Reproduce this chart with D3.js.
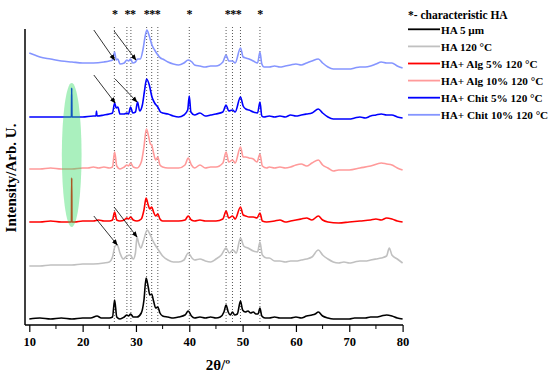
<!DOCTYPE html>
<html><head><meta charset="utf-8">
<script src="https://cdn.jsdelivr.net/npm/d3@7"></script>
<style>body{margin:0;background:#fff}svg{display:block}text{font-family:"Liberation Serif","Times New Roman",serif;font-weight:bold}</style>
</head><body><svg id="c" width="550" height="374"></svg>
<script>
// ---- data (2θ, intensity incl. stacking offset) ----
const seriesNames = ["HA 5 µm","HA 120 °C","HA+ Alg 5% 120 °C","HA+ Alg 10% 120 °C","HA+ Chit 5% 120 °C","HA+ Chit 10% 120 °C"];
const seriesColors = ["#000000","#c0c0c0","#ff0000","#ff9a9a","#0000ff","#8595ff"];
const ha5um = [[10,6],[12,7],[14,6],[16,7],[18,6],[20,7],[21.5,7],[22.7,9],[23.5,7],[25,7],[25.6,8],[26.0,25],[26.4,8],[27,6],[27.8,8],[28.3,10],[28.6,9],[29.0,11],[29.5,8],[30.2,8],[31,12],[31.5,25],[31.9,47],[32.3,38],[32.6,30],[32.95,31],[33.3,24],[33.7,17],[34.1,18],[34.5,12],[35,9],[36,8],[37,7],[38,8],[39.2,10],[39.8,14],[40.4,9],[41,7],[42,8],[43,7],[44,8],[45,7],[45.8,8],[46.5,13],[46.9,20],[47.3,13],[47.7,10],[48.1,13],[48.5,10],[49.0,11],[49.6,24],[50.0,15],[50.5,13],[51,14],[51.5,12],[52,13],[52.5,11],[52.9,11],[53.25,17],[53.6,9],[54.2,7],[55,7],[56,8],[57,7],[58,7],[59,7],[60,8],[61,7],[62,9],[63,10],[63.6,11],[64.2,13],[65,9],[66,7],[67,6],[68,6],[70,6],[71,7],[72,7],[73,7],[74,8],[75,8],[76,9],[77,10],[78,9],[79,7],[80,6]];
const ha120 = [[10,59],[12,59],[14,60],[16,60],[18,60],[20,61],[22,61],[24,62],[25,63],[25.6,68],[26.1,79],[26.5,80],[27,72],[27.6,66],[28.3,69],[28.9,70],[29.5,66],[29.9,72],[30.2,88],[30.5,82],[30.9,77],[31.4,84],[32.1,95],[32.6,91],[33.1,85],[33.6,80],[34.1,76],[35,69],[36,65],[37,63],[38,63],[39,65],[39.8,72],[40.5,67],[41,65],[42,66],[43,64],[44,63],[45,66],[46,70],[46.9,77],[47.5,72],[48.2,75],[48.8,72],[49.6,87],[50.2,79],[51,77],[52,74],[52.8,73],[53.25,83],[53.7,70],[54.5,67],[55,67],[56,64],[57,64],[58,63],[59,64],[60,64],[61,65],[62,66],[63,68],[64.2,75],[65,70],[66,66],[67,63],[68,62],[69,63],[70,62],[71,63],[72,64],[73,64],[74,65],[75,66],[76,67],[77,69],[77.5,77],[78,70],[79,66],[80,62]];
const alg5 = [[10,103],[12,103],[14,104],[16,103],[17.5,103],[17.9,103],[17.95,147],[18.0,103],[18.5,103],[20,104],[22,104],[23,105],[24,104],[25,104],[25.6,105],[26.0,113],[26.4,105],[27,104],[27.8,105],[28.3,107],[28.6,106],[29.0,108],[29.5,105],[30.2,104],[31,106],[31.5,115],[31.9,127],[32.3,120],[32.6,116],[32.95,118],[33.3,113],[33.7,109],[34.1,111],[34.5,106],[35,104],[36,104],[37,104],[38,104],[39.2,105],[39.8,109],[40.4,105],[41,104],[42,105],[43,104],[44,104],[45,104],[46.3,106],[46.9,114],[47.4,107],[48.1,109],[48.6,106],[49.6,118],[50.1,110],[50.6,109],[51.2,108],[52,108],[52.7,107],[53.25,112],[53.7,104],[54.5,103],[56,104],[57,105],[58,103],[59,104],[60,105],[61,106],[62,107],[63,105],[64.2,109],[65,105],[66,103],[68,102],[70,103],[72,104],[74,105],[75,106],[76,105],[77,107],[78,106],[79,104],[80,103]];
const alg10 = [[10,156],[12,156],[14,157],[16,156],[18,156],[20,157],[21,157],[22,158],[23,157],[24,158],[25,157],[25.6,158],[26.0,173],[26.4,159],[27,156],[27.8,158],[28.3,160],[28.6,159],[29.0,162],[29.5,158],[30.2,157],[31,163],[31.5,178],[31.95,196],[32.4,188],[32.7,181],[32.95,180],[33.3,172],[33.7,165],[34.1,168],[34.5,160],[35,158],[36,157],[37,157],[38,157],[39.2,160],[39.8,167],[40.4,160],[41,157],[42,160],[43,157],[44,158],[45,158],[46.3,162],[46.9,173],[47.4,163],[48.1,165],[48.6,162],[49.6,178],[50.1,168],[50.6,168],[51.2,167],[52,166],[52.7,163],[53.25,171],[53.7,159],[54.5,157],[55,158],[56,157],[57,158],[58,157],[59,158],[60,160],[61,161],[62,159],[63,162],[64.2,165],[65,160],[66,157],[67,154],[68,155],[70,155],[72,157],[74,159],[76,162],[77,161],[78,160],[79,157],[80,155]];
const chit5 = [[10,208],[12,208],[14,208],[16,208],[17.5,208],[17.9,208],[17.95,237],[18.0,208],[18.5,208],[20,208],[22,209],[22.5,209],[22.6,214],[22.7,209],[24,210],[25,211],[25.6,212],[26.0,222],[26.3,217],[26.6,218],[27,211],[27.8,211],[28.3,212],[28.6,211],[29.0,218],[29.4,212],[29.9,213],[30.3,223],[30.7,214],[31.2,220],[31.6,234],[32.0,246],[32.5,240],[33.0,228],[33.5,222],[34.1,218],[34.6,213],[35,212],[36,211],[37,209],[38,208],[39,210],[39.7,215],[40.0,229],[40.3,213],[41,210],[42,212],[43,209],[44,210],[45,211],[46.3,213],[46.9,220],[47.4,214],[48.1,215],[48.6,213],[49.6,228],[50.1,219],[50.6,216],[51.2,215],[52,213],[52.8,212],[53.25,223],[53.6,209],[54,208],[55,209],[56,208],[57,209],[58,208],[59,210],[60,209],[61,210],[62,211],[63,212],[64.2,216],[65,212],[66,208],[67,206],[68,206],[70,206],[71,207],[72,208],[73,207],[74,209],[75,210],[76,211],[77,210],[78,210],[79,208],[80,207]];
const chit10 = [[10,272],[11,270],[12,268],[14,266],[16,264],[18,263],[20,262],[22,262],[24,263],[25,264],[25.6,265],[26.0,273],[26.3,265],[26.6,266],[27,261],[27.8,262],[28.3,265],[28.6,264],[29.0,266],[29.4,262],[29.9,263],[30.3,266],[30.8,266],[31.3,275],[31.7,288],[32.05,295],[32.5,289],[33.0,280],[33.5,275],[34.1,270],[34.6,267],[35,266],[36,263],[37,261],[38,260],[39,262],[39.8,265],[40.5,263],[41,260],[42,259],[43,258],[44,259],[45,259],[46.3,263],[46.9,270],[47.4,264],[48.1,264],[48.6,262],[49.6,277],[50.1,268],[50.6,267],[51.2,266],[52,264],[52.8,262],[53.25,273],[53.6,261],[54,258],[55,258],[56,259],[57,258],[58,259],[59,260],[60,261],[61,260],[62,262],[63,264],[64.2,266],[65,262],[66,258],[67,256],[68,256],[70,256],[71,257],[72,258],[73,258],[74,259],[75,261],[76,263],[77,262],[78,262],[79,259],[80,257]];
const seriesData = [ha5um, ha120, alg5, alg10, chit5, chit10];
const haPeaks = [25.95, 28.3, 29.05, 32.0, 32.95, 34.1, 40.0, 46.9, 48.1, 49.6, 53.25];
const starGroups = [[26.0,"*"],[28.9,"**"],[33.0,"***"],[40.0,"*"],[48.2,"***"],[53.25,"*"]];
const xTicks = [10,20,30,40,50,60,70,80];
// annotation arrows [from 2θ, from I, to 2θ, to I]
const arrows = [[22.1,295,26.0,265],[25.9,294,30.0,265],[22.1,250,26.1,222],[26.1,246,30.2,223],[22.1,109,26.5,80],[25.9,118,30.2,88]];
const highlight = {theta:17.95, I:170, dTheta:1.85, dI:72};

// ---- chart ----
const svg = d3.select("#c");
const x = d3.scaleLinear().domain([10,80]).range([29.3,402.6]);
const y = d3.scaleLinear().domain([0,300]).range([325,25]);

// dotted reference lines + stars
svg.append("g").selectAll("line").data(haPeaks).join("line")
  .attr("x1",d=>x(d)).attr("x2",d=>x(d)).attr("y1",y(298)).attr("y2",y(1))
  .attr("stroke","#444").attr("stroke-width",0.9).attr("stroke-dasharray","1,2");
svg.append("g").selectAll("text").data(starGroups).join("text")
  .attr("x",d=>x(d[0])).attr("y",18).attr("text-anchor","middle").attr("font-size",12).attr("letter-spacing",-0.5).text(d=>d[1]);

// traces
const line = d3.line().x(d=>x(d[0])).y(d=>y(d[1])).curve(d3.curveMonotoneX);
svg.append("g").selectAll("path").data(seriesData).join("path")
  .attr("d",line).attr("fill","none")
  .attr("stroke",(d,i)=>seriesColors[i]).attr("stroke-width",1.6).attr("stroke-linejoin","round");

// highlight ellipse
svg.append("ellipse").attr("cx",x(highlight.theta)).attr("cy",y(highlight.I))
  .attr("rx",x(highlight.theta+highlight.dTheta)-x(highlight.theta))
  .attr("ry",y(0)-y(highlight.dI))
  .attr("fill","rgb(42,217,92)").attr("fill-opacity",0.4);

// arrows
const defs = svg.append("defs");
defs.append("marker").attr("id","ah").attr("viewBox","0 0 10 10").attr("refX",9).attr("refY",5)
  .attr("markerWidth",6).attr("markerHeight",6).attr("orient","auto").attr("markerUnits","userSpaceOnUse")
  .append("path").attr("d","M0,1 L10,5 L0,9 Z").attr("fill","#000");
svg.append("g").selectAll("line").data(arrows).join("line")
  .attr("x1",d=>x(d[0])).attr("y1",d=>y(d[1])).attr("x2",d=>x(d[2])).attr("y2",d=>y(d[3]))
  .attr("stroke","#000").attr("stroke-width",0.8).attr("marker-end","url(#ah)");

// axes
const xAxis = d3.axisBottom(x).tickValues(xTicks).tickSize(7).tickFormat(d3.format("d"));
const gx = svg.append("g").attr("transform",`translate(0,${y(0)})`).call(xAxis);
gx.select(".domain").attr("d",`M25,0H403`).attr("stroke-width",1.5);
gx.selectAll(".tick line").attr("stroke-width",1.2);
gx.selectAll(".tick text").attr("font-size",12.5).attr("font-family","Liberation Serif").attr("font-weight","bold").attr("dy","0.85em").attr("fill","#000");
const minor = d3.range(15,80,10);
gx.selectAll(".minor").data(minor).join("line").attr("class","minor")
  .attr("x1",d=>x(d)).attr("x2",d=>x(d)).attr("y1",0).attr("y2",4).attr("stroke","#000").attr("stroke-width",1);
svg.append("line").attr("x1",25).attr("x2",25).attr("y1",29).attr("y2",y(0)).attr("stroke","#000").attr("stroke-width",1.5);

svg.append("text").attr("x",218).attr("y",370).attr("text-anchor","middle").attr("font-size",15).text("2θ/º");
svg.append("text").attr("transform","translate(16,178) rotate(-90)").attr("text-anchor","middle").attr("font-size",15).text("Intensity/Arb. U.");

// legend
svg.append("text").attr("x",408).attr("y",19).attr("font-size",11.5).text("*- characteristic HA");
const lg = svg.append("g").selectAll("g").data(seriesNames).join("g")
  .attr("transform",(d,i)=>`translate(408,${29.3+i*17.1})`);
lg.append("line").attr("x1",0).attr("x2",32).attr("stroke",(d,i)=>seriesColors[i]).attr("stroke-width",1.8);
lg.append("text").attr("x",33).attr("y",4.5).attr("font-size",11.2).text(d=>d);
</script></body></html>
